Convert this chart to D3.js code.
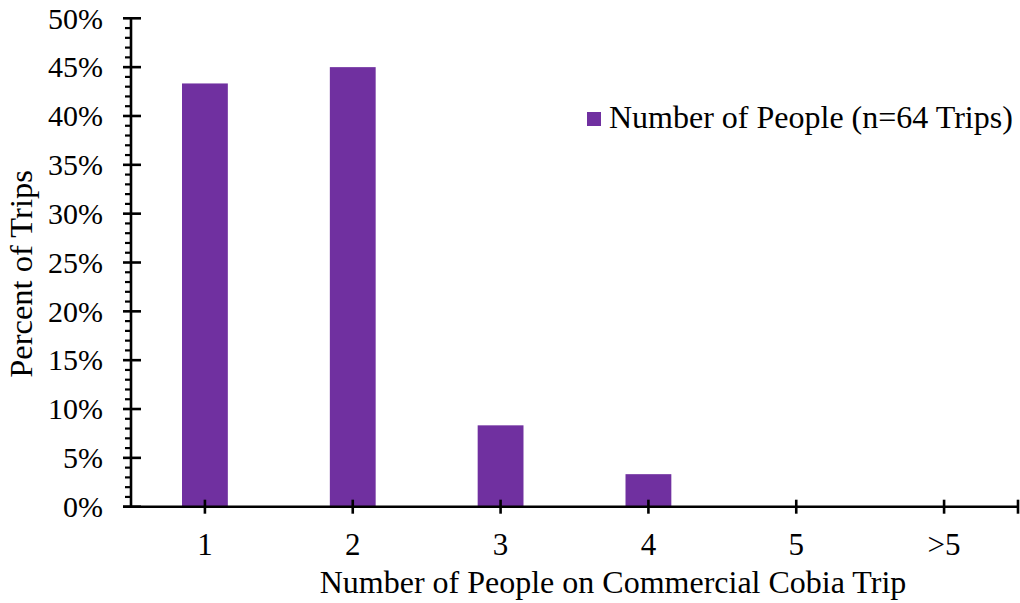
<!DOCTYPE html>
<html><head><meta charset="utf-8">
<script src="https://cdn.jsdelivr.net/npm/d3@7"></script>
<style>body{margin:0;background:#fff}text{font-family:"Liberation Serif","Times New Roman",serif;fill:#000}</style>
</head><body><svg id="c" width="1020" height="603"></svg>
<script>
const categories = ["1","2","3","4","5",">5"];
const values = [43.33, 45.0, 8.33, 3.33, 0, 0];
const yTicks = [0,5,10,15,20,25,30,35,40,45,50];
const seriesName = "Number of People (n=64 Trips)";
const xTitle = "Number of People on Commercial Cobia Trip";
const yTitle = "Percent of Trips";

const svg = d3.select("#c");
const x0 = 131, x1 = 1018, yTop = 18.3, yBot = 506.7;
const x = d3.scaleBand().domain(categories).range([x0, x1]).paddingInner(0.69).paddingOuter(0.345);
const y = d3.scaleLinear().domain([0, 50]).range([yBot, yTop]);
const color = "#7030A0";

// bars
svg.append("g").selectAll("rect").data(values.map((v,i)=>({c:categories[i],v})).filter(d=>d.v>0))
  .join("rect")
  .attr("x", d=>x(d.c)).attr("width", x.bandwidth())
  .attr("y", d=>y(d.v)).attr("height", d=>yBot - y(d.v))
  .attr("fill", color);

const sw = 2.6;
// y axis
const ya = svg.append("g");
ya.append("line").attr("x1",x0).attr("x2",x0).attr("y1",yTop).attr("y2",yBot).attr("stroke","#000").attr("stroke-width",sw);
const minor = d3.range(0, 51, 1).filter(v=>v%5!==0);
ya.selectAll(".mn").data(minor).join("line")
  .attr("x1",x0-6).attr("x2",x0).attr("y1",d=>y(d)).attr("y2",d=>y(d)).attr("stroke","#000").attr("stroke-width",2.2);
ya.selectAll(".mj").data(yTicks).join("line")
  .attr("x1",x0-8).attr("x2",x0+10).attr("y1",d=>y(d)).attr("y2",d=>y(d)).attr("stroke","#000").attr("stroke-width",sw);
ya.selectAll("text").data(yTicks).join("text")
  .attr("x",103).attr("y",d=>y(d)).attr("dy","0.34em").attr("text-anchor","end")
  .style("font-size","30px").text(d=>d+"%");

// x axis
const xa = svg.append("g");
xa.append("line").attr("x1",x0-8).attr("x2",x1).attr("y1",yBot).attr("y2",yBot).attr("stroke","#000").attr("stroke-width",sw);
const xt = categories.map(c=>x(c)+x.bandwidth()/2).concat([x1]);
xa.selectAll(".t").data(xt).join("line")
  .attr("x1",d=>d).attr("x2",d=>d).attr("y1",yBot-7).attr("y2",yBot+7).attr("stroke","#000").attr("stroke-width",sw);
xa.selectAll("text").data(categories).join("text")
  .attr("x",d=>x(d)+x.bandwidth()/2).attr("y",555).attr("text-anchor","middle")
  .style("font-size","31px").text(d=>d);

// titles
svg.append("text").attr("x",613).attr("y",593).attr("text-anchor","middle")
  .style("font-size","32px").text(xTitle);
svg.append("text").attr("transform","translate(32,274) rotate(-90)").attr("text-anchor","middle")
  .style("font-size","32.5px").text(yTitle);

// legend
svg.append("rect").attr("x",587).attr("y",112).attr("width",14).attr("height",14).attr("fill",color);
svg.append("text").attr("x",609).attr("y",128).style("font-size","32px").text(seriesName);
</script></body></html>
